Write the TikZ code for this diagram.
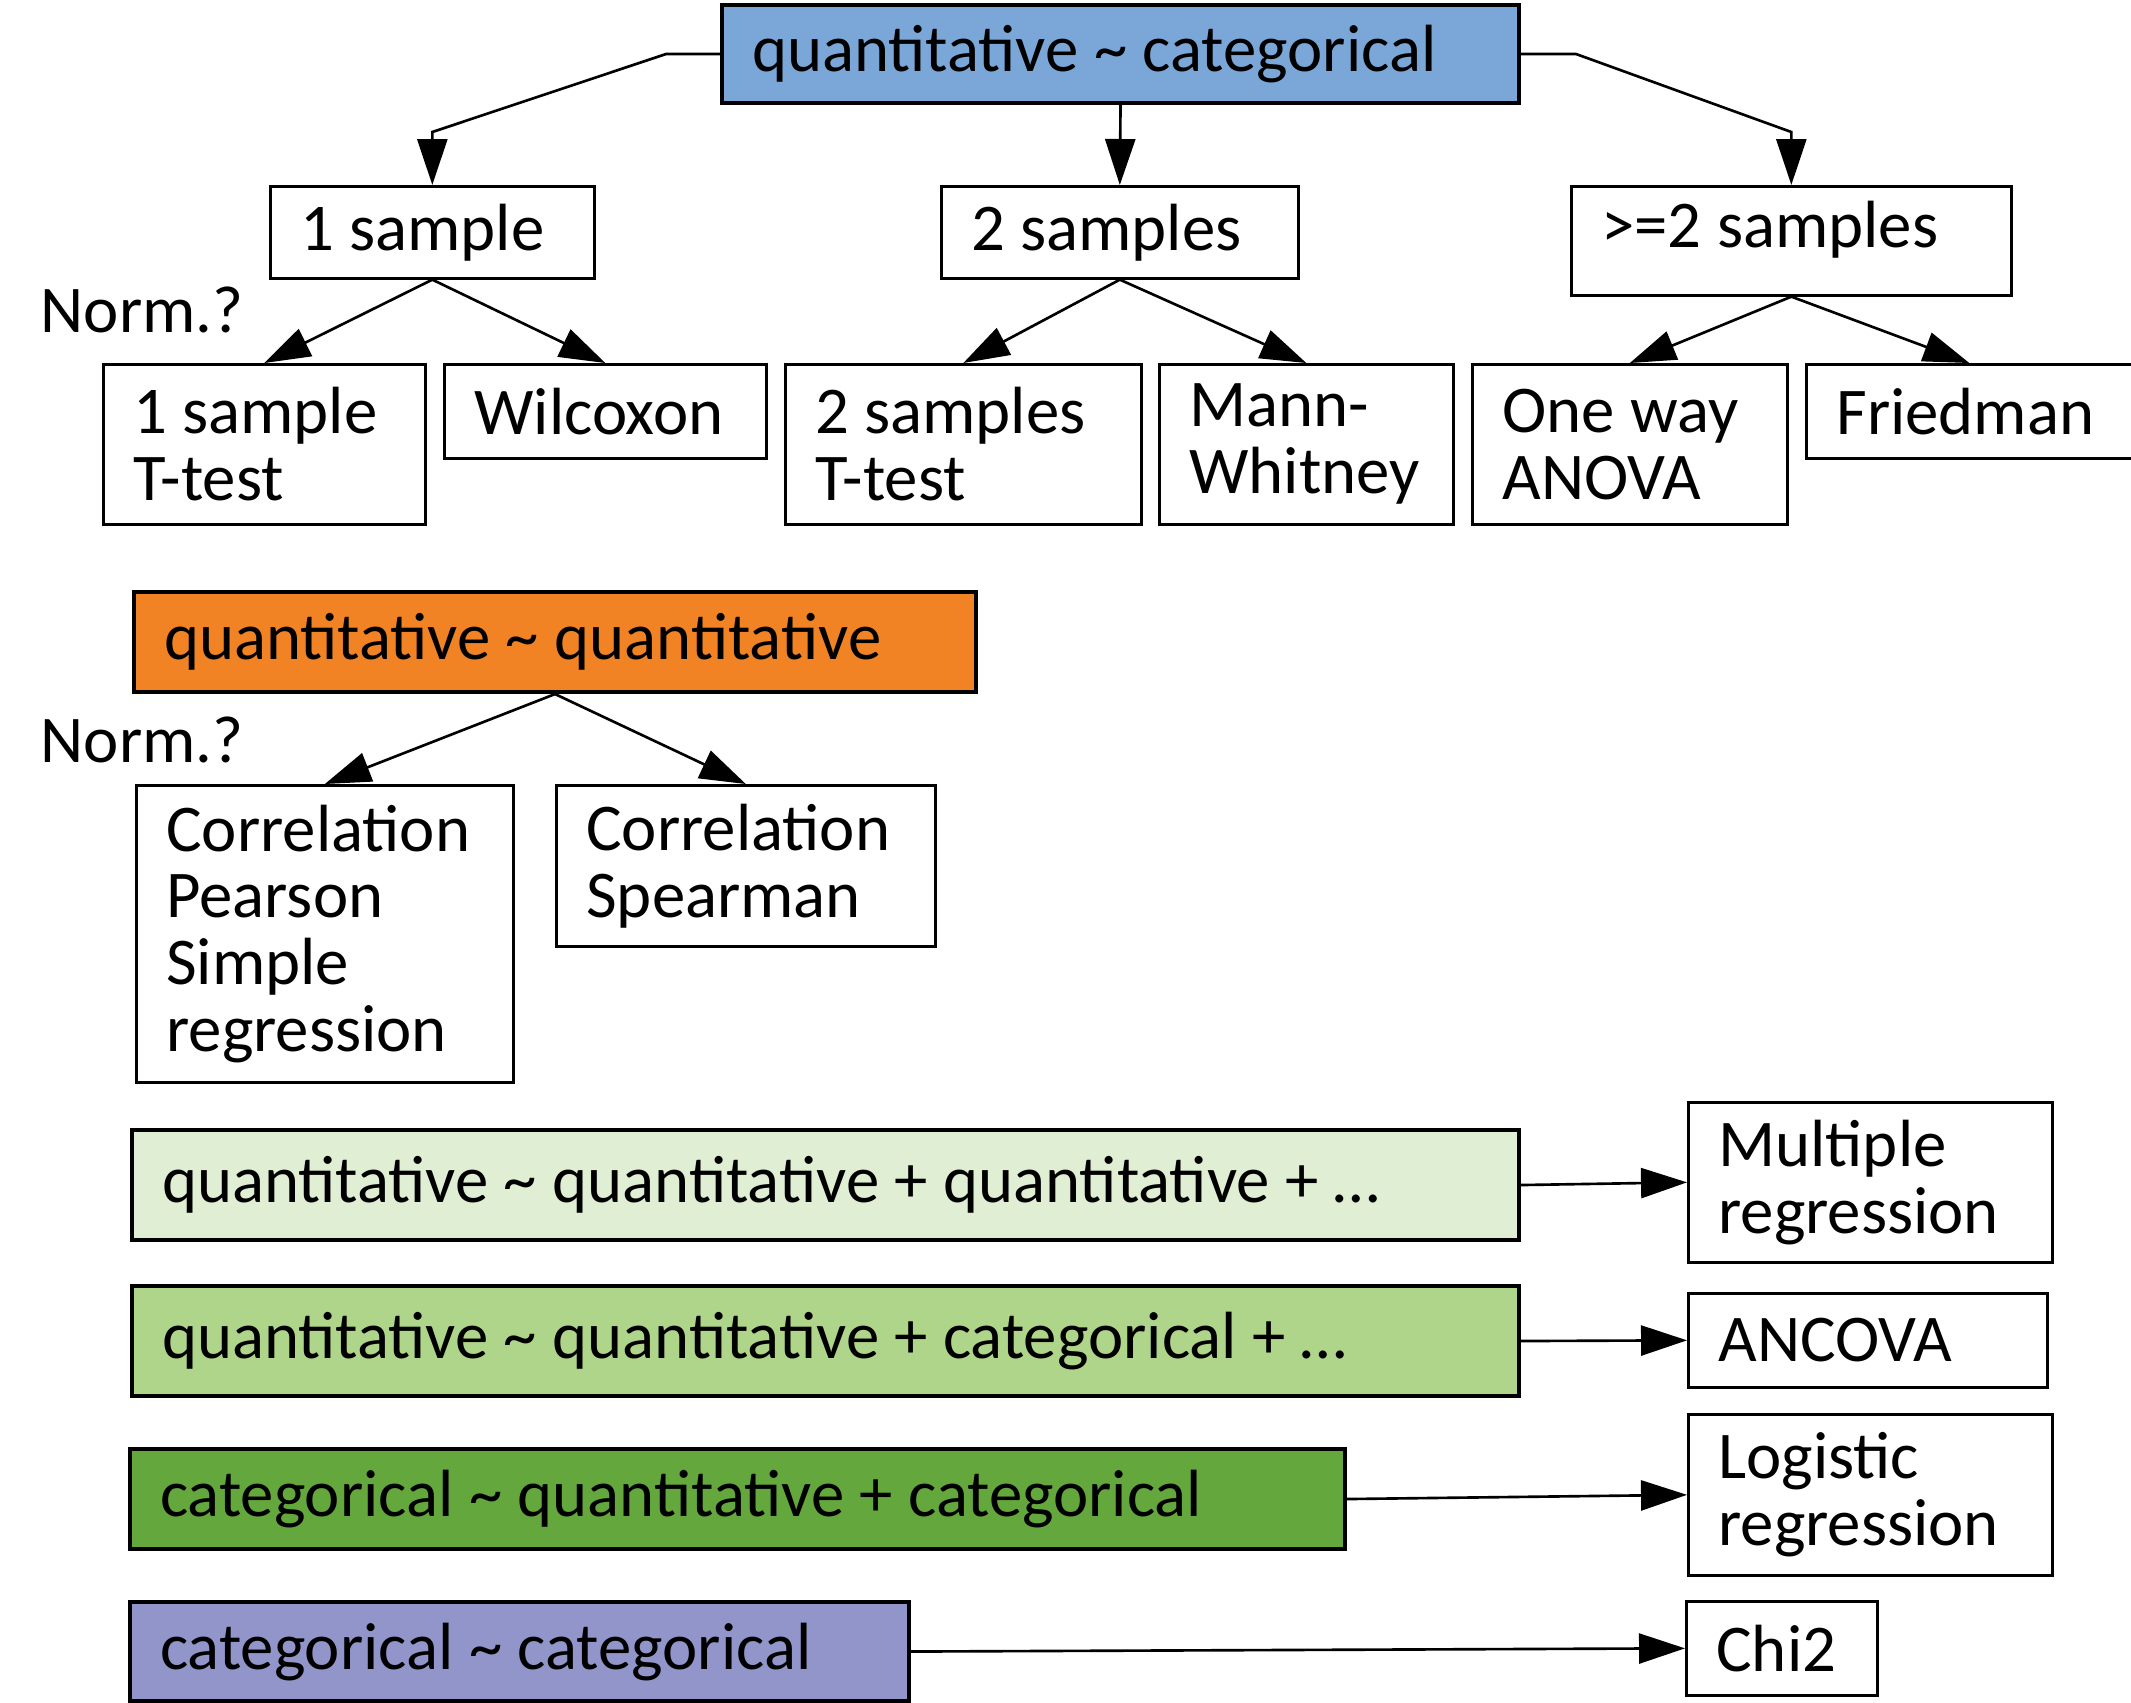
\documentclass[tikz,border=0pt]{standalone}
\usepackage{fontspec}
\setmainfont{Carlito}
\usetikzlibrary{arrows.meta}
\definecolor{qcblue}{RGB}{123,167,216}
\definecolor{qqorange}{RGB}{242,131,36}
\definecolor{qqqgreen}{RGB}{224,238,212}
\definecolor{qqcgreen}{RGB}{175,213,138}
\definecolor{cqcgreen}{RGB}{99,167,61}
\definecolor{ccpurple}{RGB}{145,149,201}

\begin{document}
\begin{tikzpicture}[font=\fontsize{19pt}{19pt}\selectfont, execute at begin node={\spaceskip=0.23em\relax}]
                \tikzstyle{formula} = [rectangle, draw, line width=1.15pt, anchor=north west, inner xsep=0.3cm, inner ysep=0pt]
                \tikzstyle{test} = [rectangle, draw, line width=0.75pt, anchor=north west, inner xsep=0.3cm, inner ysep=0pt]
                \tikzstyle{arrow} = [line width=0.75pt, -{Triangle[length=0.46cm, width=0.30cm]}]
                \useasboundingbox (0,0) rectangle (21.31,-17.02);

                \node (qc) [formula, fill=qcblue, text width=7.37cm, minimum height=0.98cm] at (7.20,-0.03) {quantitative \textasciitilde{} categorical};
                \node (one) [test, text width=2.64cm, minimum height=0.92cm] at (2.69,-1.85) {1 sample};
                \node (two) [test, text width=2.97cm, minimum height=0.92cm] at (9.40,-1.85) {2 samples};
                \node (more) [test, text width=3.80cm, minimum height=1.09cm, text depth=0.33cm] at (15.70,-1.85) {>=2 samples};
                \node (normone) [anchor=base west, inner sep=0pt] at (0.40,-3.32) {Norm.?};
                \node (ttestone) [test, text width=2.62cm, minimum height=1.60cm] at (1.02,-3.63) {1 sample\\T-test};
                \node (wilcoxon) [test, text width=2.62cm, minimum height=0.94cm] at (4.43,-3.63) {Wilcoxon};
                \node (ttesttwo) [test, text width=2.96cm, minimum height=1.60cm] at (7.84,-3.63) {2 samples\\T-test};
                \node (mann) [test, text width=2.34cm, minimum height=1.60cm] at (11.58,-3.63) {Mann-\\Whitney};
                \node (anova) [test, text width=2.55cm, minimum height=1.60cm] at (14.71,-3.63) {One way\\ANOVA};
                \node (friedman) [test, text width=2.66cm, minimum height=0.94cm] at (18.05,-3.63) {Friedman};

                \draw [arrow] (qc.west) -- ++(-0.54,0) -- (one.north |- 0,-1.32) -- (one.north);
                \draw [arrow] (qc.south) -- (two.north);
                \draw [arrow] (qc.east) -- ++(0.55,0) -- (more.north |- 0,-1.32) -- (more.north);
                \draw [arrow] (one.south) -- (ttestone.north);
                \draw [arrow] (one.south) -- (wilcoxon.north);
                \draw [arrow] (two.south) -- (ttesttwo.north);
                \draw [arrow] (two.south) -- (mann.north);
                \draw [arrow] (more.south) -- (anova.north);
                \draw [arrow] (more.south) -- (friedman.north);

                \node (qq) [formula, fill=qqorange, text width=7.82cm, minimum height=1.00cm] at (1.32,-5.90) {quantitative \textasciitilde{} quantitative};
                \node (normtwo) [anchor=base west, inner sep=0pt] at (0.40,-7.62) {Norm.?};
                \node (pearson) [test, text width=3.17cm, minimum height=2.97cm] at (1.35,-7.84) {Correlation\\Pearson\\Simple\\regression};
                \node (spearman) [test, text width=3.19cm, minimum height=1.61cm] at (5.55,-7.84) {Correlation\\Spearman};
                \draw [arrow] (qq.south) -- (pearson.north);
                \draw [arrow] (qq.south) -- (spearman.north);

                \node (qqq) [formula, fill=qqqgreen, text width=13.27cm, minimum height=1.10cm] at (1.30,-11.28) {quantitative \textasciitilde{} quantitative + quantitative + …};
                \node (qqc) [formula, fill=qqcgreen, text width=13.27cm, minimum height=1.10cm] at (1.30,-12.84) {quantitative \textasciitilde{} quantitative + categorical + …};
                \node (cqc) [formula, fill=cqcgreen, text width=11.55cm, minimum height=1.00cm] at (1.28,-14.47) {categorical \textasciitilde{} quantitative + categorical};
                \node (cc) [formula, fill=ccpurple, text width=7.19cm, minimum height=0.99cm] at (1.28,-16.00) {categorical \textasciitilde{} categorical};

                \node (multiple) [test, text width=3.04cm, minimum height=1.60cm] at (16.87,-11.01) {Multiple\\regression};
                \node (ancova) [test, text width=2.99cm, minimum height=0.94cm] at (16.87,-12.92) {ANCOVA};
                \node (logistic) [test, text width=3.04cm, minimum height=1.61cm] at (16.87,-14.13) {Logistic\\regression};
                \node (chi) [test, text width=1.31cm, minimum height=0.94cm] at (16.85,-16.00) {Chi2};

                \draw [arrow] (qqq.east) -- (multiple.west);
                \draw [arrow] (qqc.east) -- (ancova.west);
                \draw [arrow] (cqc.east) -- (logistic.west);
                \draw [arrow] (cc.east) -- (chi.west);
            \end{tikzpicture}
\end{document}
